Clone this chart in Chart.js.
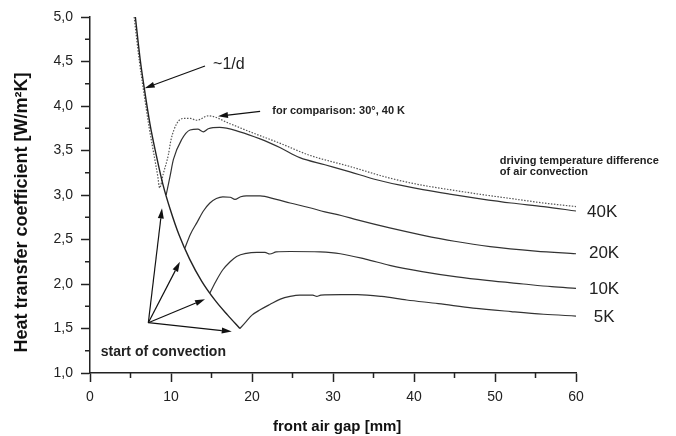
<!DOCTYPE html>
<html>
<head>
<meta charset="utf-8">
<script src="https://cdn.jsdelivr.net/npm/chart.js@4.4.1/dist/chart.umd.min.js"></script>
<style>
html, body { margin: 0; padding: 0; background: #fff; }
</style>
</head>
<body>
<canvas id="chart" width="676" height="436"></canvas>
<script>
// values (gap in mm, h in W/m²K)
const invX = [5.6, 6.2, 6.7, 7.4, 8.2, 9.0, 9.9, 11.0, 12.3, 13.8, 15.5, 17.0, 18.5];
const invY = [5.0, 4.52, 4.2, 3.8, 3.44, 3.12, 2.84, 2.55, 2.28, 2.03, 1.81, 1.65, 1.50];

const cmpX = [5.45, 6.1, 6.6, 7.3, 8.0, 8.35, 8.6, 9.05, 9.67, 10.0, 10.7, 11.5, 12.4, 13.2, 14.6, 17.3, 19.75, 23.5, 27, 32.1, 37, 41, 44.4, 48, 52, 56, 60];
const cmpY = [5.0, 4.5, 4.18, 3.76, 3.40, 3.22, 3.08, 3.24, 3.45, 3.62, 3.80, 3.86, 3.86, 3.84, 3.89, 3.80, 3.71, 3.58, 3.45, 3.32, 3.19, 3.11, 3.06, 3.01, 2.96, 2.91, 2.87];

const k40X = [9.4, 9.88, 10.3, 11.3, 12.35, 13.3, 14.0, 14.6, 16.0, 18.5, 21, 23.5, 25.9, 29, 32.1, 35, 38.3, 41.1, 44.4, 48, 52, 56, 60];
const k40Y = [3.0, 3.21, 3.40, 3.62, 3.73, 3.74, 3.71, 3.745, 3.76, 3.71, 3.63, 3.53, 3.42, 3.34, 3.26, 3.18, 3.11, 3.06, 3.01, 2.96, 2.91, 2.87, 2.82];

const k20X = [11.7, 12.4, 13.2, 14.0, 14.8, 15.6, 16.4, 17.3, 17.9, 18.6, 19.3, 21, 23, 24.7, 27, 29, 31, 33, 37, 41, 45, 49.4, 55, 60];
const k20Y = [2.40, 2.56, 2.69, 2.82, 2.91, 2.96, 2.98, 2.975, 2.95, 2.98, 2.99, 2.99, 2.95, 2.91, 2.86, 2.81, 2.77, 2.72, 2.63, 2.55, 2.48, 2.42, 2.37, 2.34];

const k10X = [14.8, 15.6, 16.4, 17.3, 18.1, 19.3, 20.6, 21.6, 22.2, 23.0, 24.7, 28.4, 30.9, 34, 37, 41, 45.3, 49, 53.5, 57, 60];
const k10Y = [1.90, 2.04, 2.16, 2.25, 2.31, 2.345, 2.355, 2.355, 2.337, 2.36, 2.365, 2.36, 2.34, 2.28, 2.21, 2.14, 2.08, 2.04, 2.00, 1.97, 1.95];

const k5X = [18.5, 19.3, 20.0, 21.0, 22.2, 23.5, 24.7, 25.9, 27.5, 28.0, 28.5, 31, 33, 36, 39.1, 43, 47.3, 52, 56, 60];
const k5Y = [1.50, 1.58, 1.65, 1.71, 1.77, 1.83, 1.86, 1.875, 1.875, 1.86, 1.875, 1.88, 1.88, 1.86, 1.82, 1.78, 1.73, 1.69, 1.66, 1.64];

const xMajor = [0, 10, 20, 30, 40, 50, 60];
const yMajor = [1.0, 1.5, 2.0, 2.5, 3.0, 3.5, 4.0, 4.5, 5.0];

const FONT = "'Liberation Sans', Arial, sans-serif";
const INK = '#222';

function pts(xs, ys) {
    return xs.map((x, i) => ({ x: x, y: ys[i] }));
}

function curve(label, xs, ys, extra) {
    return Object.assign({
        label: label,
        data: pts(xs, ys),
        borderColor: '#333',
        borderWidth: 1.2,
        pointRadius: 0,
        fill: false,
        cubicInterpolationMode: 'monotone'
    }, extra || {});
}

function arrow(ctx, x0, y0, x1, y1) {
    const a = Math.atan2(y1 - y0, x1 - x0);
    const len = 10, w = 3;
    const bx = x1 - len * Math.cos(a), by = y1 - len * Math.sin(a);
    ctx.beginPath();
    ctx.moveTo(x0, y0);
    ctx.lineTo(bx, by);
    ctx.stroke();
    ctx.beginPath();
    ctx.moveTo(x1, y1);
    ctx.lineTo(bx + w * Math.sin(a), by - w * Math.cos(a));
    ctx.lineTo(bx - w * Math.sin(a), by + w * Math.cos(a));
    ctx.closePath();
    ctx.fill();
}

// minor ticks + texts and arrows, placed in data units
const notes = {
    id: 'notes',
    afterDraw(chart) {
        const ctx = chart.ctx;
        const sx = chart.scales.x, sy = chart.scales.y;
        const px = v => sx.getPixelForValue(v);
        const py = v => sy.getPixelForValue(v);
        const area = chart.chartArea;
        ctx.save();
        ctx.strokeStyle = INK;
        ctx.lineWidth = 1.5;
        ctx.beginPath();
        for (let v = 5; v < 60; v += 10) {
            ctx.moveTo(px(v), area.bottom);
            ctx.lineTo(px(v), area.bottom + 5);
        }
        for (let v = 1.25; v < 5; v += 0.5) {
            ctx.moveTo(area.left, py(v));
            ctx.lineTo(area.left - 5, py(v));
        }
        ctx.stroke();

        ctx.fillStyle = '#111';
        ctx.strokeStyle = '#111';
        ctx.lineWidth = 1.2;
        arrow(ctx, px(14.2), py(4.45), px(6.75), py(4.2));
        arrow(ctx, px(21.0), py(3.94), px(15.8), py(3.885));
        const sX = px(7.2), sY = py(1.565);
        arrow(ctx, sX, sY, px(8.89), py(2.85));
        arrow(ctx, sX, sY, px(11.1), py(2.25));
        arrow(ctx, sX, sY, px(14.2), py(1.83));
        arrow(ctx, sX, sY, px(17.5), py(1.465));

        ctx.textAlign = 'left';
        ctx.textBaseline = 'middle';
        ctx.fillStyle = INK;
        ctx.font = '16px ' + FONT;
        ctx.fillText('~1/d', px(15.2), py(4.46));
        ctx.font = 'bold 11px ' + FONT;
        ctx.fillText('for comparison: 30°, 40 K', px(22.5), py(3.94));
        ctx.fillText('driving temperature difference', px(50.6), py(3.385));
        ctx.fillText('of air convection', px(50.6), py(3.258));
        ctx.font = 'bold 14px ' + FONT;
        ctx.fillText('start of convection', px(1.32), py(1.236));
        ctx.font = '17px ' + FONT;
        ctx.fillText('40K', px(61.36), py(2.81));
        ctx.fillText('20K', px(61.6), py(2.35));
        ctx.fillText('10K', px(61.6), py(1.945));
        ctx.fillText('5K', px(62.2), py(1.63));
        ctx.restore();
    }
};

new Chart('chart', {
    type: 'line',
    data: {
        datasets: [
            curve('~1/d', invX, invY, { borderWidth: 1.4, borderColor: '#222' }),
            curve('30°, 40 K', cmpX, cmpY, { borderColor: '#555', borderDash: [1.5, 1.5] }),
            curve('40K', k40X, k40Y),
            curve('20K', k20X, k20Y),
            curve('10K', k10X, k10Y),
            curve('5K', k5X, k5Y)
        ]
    },
    options: {
        responsive: false,
        animation: false,
        devicePixelRatio: 1,
        layout: { padding: { left: 0, right: 100, top: 17, bottom: 0 } },
        plugins: { legend: { display: false }, tooltip: { enabled: false } },
        scales: {
            x: {
                type: 'linear',
                min: 0, max: 60,
                afterFit: s => { s.height = 63; },
                afterBuildTicks: s => { s.ticks = xMajor.map(v => ({ value: v })); },
                border: { display: true, color: INK, width: 1.5 },
                grid: { drawOnChartArea: false, tickLength: 9, tickColor: INK, tickWidth: 1.5 },
                ticks: { color: INK, padding: 7, font: { family: FONT, size: 14 }, maxRotation: 0 },
                title: {
                    display: true, text: '  front air gap [mm]', color: '#111',
                    font: { family: FONT, size: 15, weight: 'bold' }, padding: { top: 0, bottom: 0 }
                }
            },
            y: {
                min: 1, max: 5,
                afterFit: s => { s.width = 90; },
                afterBuildTicks: s => { s.ticks = yMajor.map(v => ({ value: v })); },
                border: { display: true, color: INK, width: 1.5 },
                grid: { drawOnChartArea: false, tickLength: 9, tickColor: INK, tickWidth: 1.5 },
                ticks: {
                    color: INK, padding: 8, font: { family: FONT, size: 14 },
                    callback: v => v.toFixed(1).replace('.', ',')
                },
                title: {
                    display: true, text: 'Heat transfer coefficient [W/m²K]       ', color: '#111',
                    font: { family: FONT, size: 18, weight: 'bold' }, padding: { top: 11, bottom: 0 }
                }
            }
        }
    },
    plugins: [notes]
});
</script>
</body>
</html>
